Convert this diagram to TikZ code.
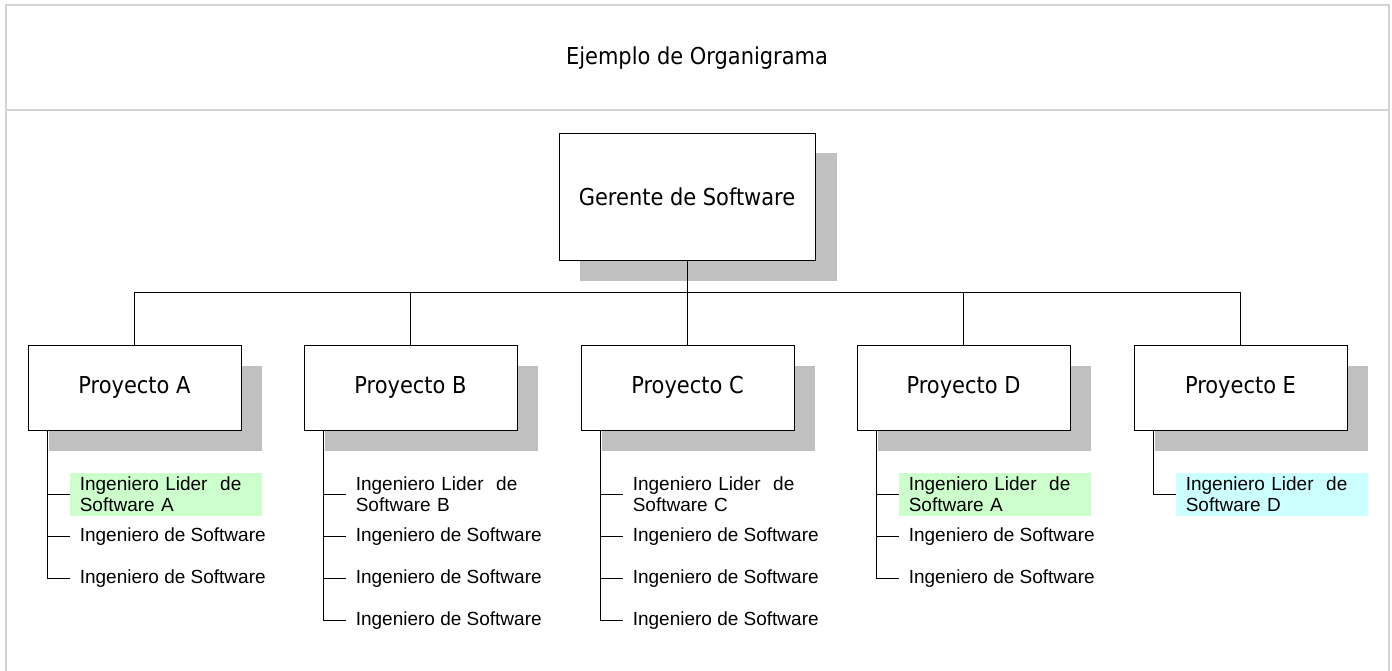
\documentclass[tikz,border=0pt]{standalone}
\usepackage{fontspec}
\setmainfont{Liberation Sans}
\newfontfamily\boxfont{DejaVu Sans Condensed}
\definecolor{frame}{RGB}{212,212,212}
\definecolor{shadowgray}{RGB}{192,192,192}
\definecolor{leadgreen}{RGB}{204,255,204}
\definecolor{leadcyan}{RGB}{204,255,255}
\tikzset{
  mainbox/.style={draw=black, fill=white, line width=0.8pt, inner sep=0pt, font=\boxfont\fontsize{23.3}{27}\selectfont},
  gerbox/.style={mainbox, minimum width=256pt, minimum height=127pt},
  projbox/.style={mainbox, minimum width=213pt, minimum height=85pt},
  leadbox/.style={anchor=west, inner xsep=10pt, inner ysep=0pt, minimum height=43pt, text width=172pt, align=left, font=\fontsize{19}{20.5}\selectfont},
  engnode/.style={anchor=west, inner xsep=10pt, inner ysep=0pt, font=\fontsize{19}{20.5}\selectfont},
  conn/.style={draw=black, line width=0.8pt},
}
\begin{document}
\begin{tikzpicture}[x=1pt,y=-1pt]
\useasboundingbox (0,0) rectangle (1392,670);
% frame
\draw[frame, line width=2pt] (6,690) -- (6,5) -- (1389,5) -- (1389,690);
\draw[frame, line width=2pt] (6,110) -- (1389,110);
\node[font=\boxfont\fontsize{23.3}{27}\selectfont] (title) at (697,58) {Ejemplo de Organigrama};
% shadows
\fill[shadowgray] (580,153) rectangle (837,281);
\foreach \x in {28,304,581,857,1134}{
  \fill[shadowgray] (\x+21,366) rectangle (\x+234,451);
}
% boxes
\node[gerbox] (g) at (687,196.5) {Gerente de Software};
\node[projbox] (pA) at (134.5,387.5) {Proyecto A};
\node[projbox] (pB) at (410.5,387.5) {Proyecto B};
\node[projbox] (pC) at (687.5,387.5) {Proyecto C};
\node[projbox] (pD) at (963.5,387.5) {Proyecto D};
\node[projbox] (pE) at (1240.5,387.5) {Proyecto E};
\coordinate (bus) at (0,292);
\draw[conn] (g.south) -- (g.south |- bus);
\draw[conn] (pA.north |- bus) -- (pE.north |- bus);
\foreach \p in {pA,pB,pC,pD,pE}{
  \draw[conn] (\p.north) -- (\p.north |- bus);
}
% children
\foreach \p/\c/\lt in {pA/leadgreen/A, pB/white/B, pC/white/C, pD/leadgreen/A, pE/leadcyan/D}{
  \coordinate (t\p) at ([xshift=20pt]\p.south west);
  \node[leadbox, fill=\c] (l\p) at ([xshift=42pt,yshift=-64pt]\p.south west) {Ingeniero Lider\ \ de\\Software \lt};
  \draw[conn] (t\p) |- (l\p.west);
}
\foreach \p in {pA,pB,pC,pD}{
  \node[engnode] (e1\p) at ([xshift=42pt,yshift=-106pt]\p.south west) {Ingeniero de Software};
  \node[engnode] (e2\p) at ([xshift=42pt,yshift=-148pt]\p.south west) {Ingeniero de Software};
  \draw[conn] (t\p) |- (e1\p.west);
  \draw[conn] (t\p) |- (e2\p.west);
}
\foreach \p in {pB,pC}{
  \node[engnode] (e3\p) at ([xshift=42pt,yshift=-190pt]\p.south west) {Ingeniero de Software};
  \draw[conn] (t\p) |- (e3\p.west);
}
\end{tikzpicture}
\end{document}
